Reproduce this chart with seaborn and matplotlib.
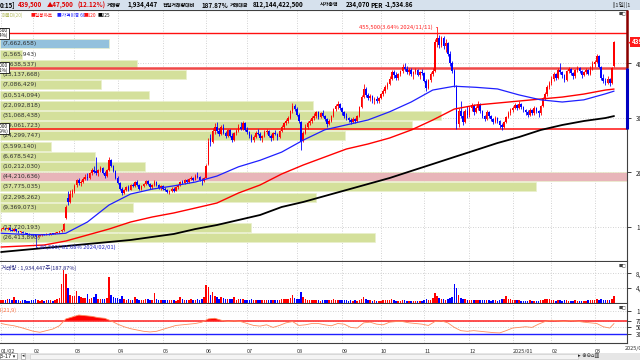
import numpy as np
import matplotlib
matplotlib.use("Agg")
import matplotlib.pyplot as plt
import matplotlib.transforms as mtrans
from matplotlib.patches import Rectangle
import seaborn as sns

sns.set_theme(style="white")
plt.rcParams['font.family'] = ['Noto Sans CJK KR', 'DejaVu Sans']
plt.rcParams['axes.unicode_minus'] = False

# ---------------- data ----------------
MONTH_LABELS = ["01/02", "02", "03", "04", "05", "06", "07", "08", "09", "10", "11", "12", "2025/01", "02", "03"]
MONTH_BARS = [15, 19, 20, 21, 20, 19, 23, 21, 18, 20, 21, 20, 18, 20, 10]

OPENS = [95,96,97,95,98,94,93,95,92,90,91,89,88,87,86,
         85,84,82,83,84,86,85,87,86,88,87,89,90,92,94,116,152,146,160,
         165,176,185,180,183,188,192,190,198,205,202,198,204,208,198,194,205,222,212,202,
         190,180,170,162,168,172,168,176,174,182,176,170,174,178,184,178,172,176,182,176,171,
         174,170,167,164,166,170,166,172,176,182,180,186,182,188,190,186,194,192,186,184,
         190,215,262,256,276,284,276,270,284,272,266,278,266,260,272,276,284,280,290,
         278,274,266,260,264,272,270,262,266,274,276,266,262,272,270,264,276,284,290,294,300,312,322,
         316,306,292,258,272,284,290,294,300,304,310,302,308,304,298,288,294,304,316,322,326,
         318,310,304,300,296,292,298,294,304,320,338,352,342,336,340,332,334,330,
         336,344,350,356,362,372,384,378,374,380,386,394,390,384,388,380,384,388,378,384,
         382,368,354,370,380,386,440,446,434,446,432,438,418,400,386,358,288,312,304,292,312,
         306,318,324,310,318,326,312,304,298,310,304,298,292,300,294,286,284,292,302,308,
         314,318,324,318,326,320,314,310,306,314,308,318,312,308,322,336,344,356,
         364,372,380,374,388,384,378,370,386,390,382,376,388,392,386,378,384,388,380,392,
         398,402,414,394,374,368,364,372,364,395]
HIGHS = [98,99,98,100,99,96,97,96,93,92,92,90,89,88,87,
         86,85,84,85,87,87,88,88,89,89,90,91,93,95,107,140,165,168,170,
         178,188,190,186,192,196,198,200,208,212,228,206,212,210,202,206,228,224,214,205,
         194,182,172,170,174,176,178,180,184,185,178,176,180,186,186,180,178,186,184,178,176,
         176,172,170,168,172,172,174,178,184,186,188,188,190,194,192,196,200,194,190,192,
         215,262,270,282,290,292,282,286,288,276,280,280,272,274,280,288,292,294,292,
         284,276,270,268,276,280,274,268,278,280,278,270,274,278,272,278,286,292,298,304,314,327,326,
         320,308,294,276,288,294,298,304,308,312,312,310,314,306,300,298,306,318,326,330,328,
         320,312,308,302,300,302,300,306,322,342,363,356,346,344,342,338,340,338,
         346,352,360,366,376,388,388,384,382,388,398,400,396,392,392,386,392,390,386,390,
         384,372,372,384,392,445,455.5,452,450,450,444,440,422,404,390,360,318,330,312,316,322,
         322,328,326,322,330,328,314,306,314,312,306,300,304,302,296,290,294,304,312,318,
         322,328,326,330,328,322,316,314,318,316,322,320,314,324,338,348,360,368,
         376,384,382,392,400,386,380,388,394,392,384,390,396,394,388,386,392,390,396,404,
         406,418,416,396,380,374,376,374,394,441]
LOWS = [93,95,94,94,93,92,92,91,89,89,88,87,86,85,84,
        83,80.5,81,82,83,84,84,85,85,86,86,88,89,90,93,115,140,144,155,
        162,172,176,175,180,185,186,188,195,198,195,194,200,196,190,192,203,210,200,188,
        178,168,158,160,165,166,167,172,172,174,168,168,172,176,176,170,170,174,174,169,168,
        168,165,162,160,164,164,165,170,175,178,179,180,181,185,184,185,190,184,176,182,
        189,214,248,254,270,272,266,268,270,262,264,264,256,258,268,274,278,278,276,
        270,262,256,255,262,268,260,256,264,270,264,258,260,268,260,262,274,280,286,290,298,308,312,
        304,290,241,256,270,280,286,290,296,300,298,300,302,294,284,286,292,302,312,316,314,
        306,300,296,292,288,290,290,292,302,318,336,338,332,330,328,326,328,328,
        334,340,346,352,360,370,374,370,370,376,382,386,380,378,376,372,380,376,372,378,
        366,350,352,366,376,384,430,428,430,426,420,414,396,382,356,280,284,300,286,290,300,
        302,312,306,308,314,308,300,294,296,300,294,288,290,290,282,278,282,290,300,306,
        310,316,314,316,316,310,306,302,304,306,306,308,302,306,320,332,340,352,
        360,368,370,372,380,374,366,368,382,378,372,374,384,382,374,376,380,378,378,388,
        394,400,392,370,364,360,362,358,362,394]
CLOSES = [96,97,95,98,94,93,95,92,90,91,89,88,87,86,85,
          84,82,83,84,86,85,87,86,88,87,89,90,92,94,105,137,145,160,165,
          175,185,180,183,188,192,190,198,205,200,198,204,208,198,194,204,222,212,202,190,
          180,170,162,168,172,168,176,174,182,176,170,174,178,184,178,172,176,182,176,171,174,
          170,167,164,166,170,166,172,176,182,180,186,182,188,190,186,194,192,186,184,190,
          212,255,256,276,284,276,270,284,272,266,278,266,260,272,276,284,280,290,278,
          274,266,260,264,272,270,262,266,274,276,266,262,272,270,264,276,284,290,294,300,312,322,316,
          306,294,256,272,284,290,294,300,304,310,302,308,304,298,288,294,304,316,322,326,318,
          310,304,300,296,292,298,294,304,320,338,352,342,336,340,332,334,330,336,
          344,350,356,362,372,384,378,374,380,386,394,390,384,388,380,384,388,378,384,382,
          368,354,370,380,386,440,446,434,446,432,438,418,400,386,360,288,312,304,292,312,306,
          318,324,310,318,326,312,304,298,310,304,298,292,300,294,286,284,292,302,308,314,
          318,324,318,326,320,314,310,306,314,308,318,312,308,322,336,344,356,364,
          372,380,374,388,384,378,370,386,390,382,376,388,392,386,378,384,388,380,392,398,
          402,414,394,374,368,364,372,364,392,439.5]
PRICE_UNIT = 1000  # prices above are in thousand won

VOLUMES_K = [900,700,800,1100,1000,700,1600,900,800,600,700,900,600,500,700,
             800,1200,700,600,900,600,800,700,900,600,800,1100,1400,5200,8800,7700,3900,2200,2000,
             1800,3300,1900,1500,1400,1300,2500,1200,1400,1600,2300,1100,1200,1000,1100,1300,6900,2200,1500,1300,
             1400,1200,2000,1000,900,1100,800,900,1700,1000,900,800,900,1200,1000,800,900,2800,1100,900,800,
             800,700,900,800,700,800,600,900,1700,1000,900,700,800,1100,900,800,1000,900,1200,1500,
             4900,4400,2200,3000,2000,1600,1200,1500,1300,1100,1200,1000,1100,1500,900,1000,1100,1000,900,
             800,900,1000,800,900,700,800,900,800,700,900,800,700,800,700,900,1000,1100,1000,1200,1400,2200,1300,
             1100,1200,3000,1500,1100,900,800,700,800,900,700,600,700,800,900,700,800,1000,900,800,700,
             700,800,700,600,700,600,700,600,900,1200,1500,1100,900,700,600,700,600,500,
             600,700,800,700,900,1000,700,600,500,600,800,700,600,500,600,500,600,500,500,600,
             700,1000,900,700,1300,2800,2000,1300,1100,1000,900,1100,1300,1600,5000,3900,2200,1400,1200,1000,900,
             900,800,700,800,900,700,800,700,900,700,600,700,800,600,900,1100,1000,2000,1200,1000,
             900,800,700,800,600,500,600,500,700,600,500,600,500,700,900,1000,1200,1000,
             800,700,600,900,800,600,700,800,600,500,600,700,600,500,600,500,600,700,800,900,
             800,1000,900,1000,800,700,800,700,1030,1934.447]

# moving averages read every 10 bars (thousand won)
MA_IDX = [0,10,20,30,40,50,60,70,80,90,100,110,120,130,140,150,160,170,180,190,200,210,220,230,240,250,260,270,280,284]
MA60 = [88,86,85,88,108.6,139.8,160,169,175,182,193,210,222,237,259,278,287,296,311,329,351,358,356,353,342,333,329,333,344,349]
MA120 = [62.7,64.5,66.4,73.7,84.7,95.7,108.6,117.8,125.2,134.3,143.5,161.9,176.6,196.8,213.3,228,242.7,251.9,262.9,277.6,295.9,316.1,323.4,327.1,330.8,334.5,338.1,343.6,351,352.8]
MA225 = [53.5,57.2,60.9,64.5,68.2,71.9,75.6,81.1,86.6,95.7,103.1,112.3,121.5,136.2,145.4,156.4,167.4,178.4,189.4,202.3,215.1,228,240.8,253.7,264.7,277.6,286.8,294.1,299.6,303.2]

# oscillator read every 3 bars
RSI_STEP = 3
RSI = [62,58,55,50,44,38,35,40,45,55,76,82,88,86,84,80,78,70,60,52,
       46,42,38,36,38,44,50,56,58,60,62,66,76,78,72,68,70,68,62,56,
       54,58,50,56,64,68,56,58,62,62,58,55,62,60,50,48,64,66,60,58,
       66,68,68,64,62,60,56,68,70,64,50,40,38,40,38,36,34,33,40,48,
       50,52,50,60,68,72,70,68,71,69,66,64,62,52,48,62]
RSI_UPPER, RSI_LOWER = 70, 30

# volume profile (20 price bins, top to bottom)
PROFILE_HIGH = 445000
PROFILE_LOW = 70000
PROFILE_VOLUMES = [7662658, 1565943, 9638537, 13137668, 7086429, 10514094, 22092818, 31068438,
                   29061723, 24299747, 3599140, 6678542, 10212030, 44210636, 37775035, 22298262,
                   9369073, 0, 17720193, 26413898]

HLINE_PRICES = [455500, 392000, 280000]
HLINE_TAGS = ["455,500\n(3.64%)", "392,000\n(-10.81%)", "280,000\n(-36.29%)"]
PEAK_DATE = "2024/11/11"
LOW_DATE = "2024/02/01"

HEADER_TEXTS = ["0:15]", "439,500", "▲47,500", "(12.12%)", "거래량", "1,934,447", "전일거래량대비",
                "187.87%", "거래대금", "812,144,422,500", "시가총액", "234,070", "PER", "-1,534.86"]
LEGEND_TEXTS = ["매물대(20)", "■일봉차트", "■가격이동 60", "■120", "■225"]
VOLUME_LABEL = "거래량 : 1,934,447주(187.87%)"
OSC_LABEL = "RSI(21,9)"

# ---------------- arrays ----------------
n = min(len(OPENS), len(HIGHS), len(LOWS), len(CLOSES), len(VOLUMES_K))
O = np.array(OPENS[:n], float) * PRICE_UNIT
H = np.array(HIGHS[:n], float) * PRICE_UNIT
L = np.array(LOWS[:n], float) * PRICE_UNIT
C = np.array(CLOSES[:n], float) * PRICE_UNIT
V = np.array(VOLUMES_K[:n], float) * 1000
idx = np.arange(n)
up = C >= O
ccol = np.where(up, '#ff0000', '#0000ff')

W, Hh = 640, 360
def fx(p): return p / W
def fy(p): return 1 - p / Hh
def rect(x0, y0, x1, y1): return [fx(x0), fy(y1), (x1 - x0) / W, (y1 - y0) / Hh]

fig = plt.figure(figsize=(6.4, 3.6), dpi=100)
fig.patch.set_facecolor('white')

XL = (-0.5, 290.0)
ax = fig.add_axes(rect(0, 10, 627, 261))
axv = fig.add_axes(rect(0, 262, 627, 303))
axo = fig.add_axes(rect(0, 304, 627, 343))

month_pos = np.cumsum([0] + MONTH_BARS[:-1]).astype(float)

for a in (ax, axv, axo):
    a.set_xlim(*XL)
    a.set_facecolor('white')
    a.set_xticks(month_pos)
    a.grid(axis='x', ls=(0, (1, 2)), color='#c4c4c4', lw=0.6)
    a.grid(axis='y', ls=(0, (1, 2)), color='#c4c4c4', lw=0.6)
    a.set_axisbelow(True)
    a.yaxis.tick_right()
    a.tick_params(axis='y', direction='out', length=3, width=0.6, labelsize=4.5,
                  pad=3.5, colors='#202020')
    a.tick_params(axis='x', length=0, labelbottom=False)
    a.spines['left'].set_visible(False)
    for s in ('right', 'top', 'bottom'):
        a.spines[s].set_color('#404040')
        a.spines[s].set_linewidth(0.8)
axv.spines['top'].set_visible(False)
axo.spines['top'].set_visible(False)

# ---------------- main price panel ----------------
ax.set_ylim(37000, 498000)
yt = [100000, 200000, 300000, 400000]
ax.set_yticks(yt)
ax.set_yticklabels([f"{v:,}" for v in yt])

# volume profile
nb = len(PROFILE_VOLUMES)
step = (PROFILE_HIGH - PROFILE_LOW) / nb
centers = PROFILE_HIGH - step * (np.arange(nb) + 0.5)
pv = np.array(PROFILE_VOLUMES, float)
span = XL[1] - XL[0]
cur_bin = int((PROFILE_HIGH - C[-1]) // step)
pcols = ['#d4e09b'] * nb
pcols[int(np.argmax(pv))] = '#e8b5b9'
pcols[cur_bin] = '#93c1dd'
ax.barh(centers, pv / pv.max() * span, left=XL[0], height=step * 0.88,
        color=pcols, edgecolor='#e9f0cc', linewidth=0.5, zorder=1)
for cy, v in zip(centers, pv):
    if v > 0:
        ax.text(0.6, cy, f"({int(v):,})", fontsize=4.2, color='#303030',
                va='center', ha='left', zorder=1.5, family=['DejaVu Sans'])

# horizontal level lines
tr = mtrans.blended_transform_factory(ax.transAxes, ax.transData)
hl_style = [('#ff1010', 1.0), ('#f04848', 1.8), ('#ff1010', 1.1)]
for p, (col, lw) in zip(HLINE_PRICES, hl_style):
    ax.axhline(p, color=col, lw=lw, zorder=2)
for p, tag in zip(HLINE_PRICES, HLINE_TAGS):
    ax.text(8 / 627, p, tag, transform=tr, ha='right', va='center', fontsize=3.4,
            linespacing=0.95, color='#101010', zorder=8, clip_on=False,
            bbox=dict(boxstyle='square,pad=0.12', fc='white', ec='#101010', lw=0.6))

# candles
ax.vlines(idx, L, H, colors=ccol, lw=0.6, zorder=3)
body_lo = np.minimum(O, C)
body_h = np.maximum(np.abs(C - O), 1200)
ax.bar(idx, body_h, bottom=body_lo, width=0.72, color=ccol, lw=0, zorder=3.1)

# moving averages
ma_x = np.array(MA_IDX)
sns.lineplot(x=ma_x, y=np.array(MA225) * PRICE_UNIT, ax=ax, color='#000000', linewidth=1.3, zorder=4)
sns.lineplot(x=ma_x, y=np.array(MA120) * PRICE_UNIT, ax=ax, color='#ff0000', linewidth=1.0, zorder=4)
sns.lineplot(x=ma_x, y=np.array(MA60) * PRICE_UNIT, ax=ax, color='#1f1fff', linewidth=0.9, zorder=4)

# peak / low annotations
ipk = int(np.argmax(H)); ilo = int(np.argmin(L))
pk_pct = (H[ipk] / C[-1] - 1) * 100
lo_pct = (L[ilo] / C[-1] - 1) * 100
ax.annotate(f"{int(H[ipk]):,}({pk_pct:.2f}% {PEAK_DATE})", xy=(ipk, H[ipk]), xytext=(-3, 4.5),
            textcoords='offset points', ha='right', va='center', fontsize=4.2, color='#ff2020',
            zorder=6, arrowprops=dict(arrowstyle='-', color='#ff2020', lw=0.6, shrinkA=0, shrinkB=0,
                                      relpos=(1, 0.5), connectionstyle='angle,angleA=0,angleB=90,rad=0'))
ax.annotate(f"{int(L[ilo]):,}({lo_pct:.2f}% {LOW_DATE})", xy=(ilo, L[ilo]), xytext=(3, -7),
            textcoords='offset points', ha='left', va='center', fontsize=4.2, color='#2828c8',
            zorder=6, arrowprops=dict(arrowstyle='-', color='#2828c8', lw=0.6, shrinkA=0, shrinkB=0,
                                      relpos=(0, 0.5), connectionstyle='angle,angleA=0,angleB=90,rad=0'))

# right axis colour segments and price tag
ylim_top = ax.get_ylim()[1]
ax.plot([1, 1], [HLINE_PRICES[1], ylim_top], transform=tr, color='#8b0000', lw=1.8,
        clip_on=False, zorder=7, solid_capstyle='butt')
ax.plot([1, 1], [HLINE_PRICES[2], HLINE_PRICES[1]], transform=tr, color='#0000c0', lw=2.2,
        clip_on=False, zorder=7, solid_capstyle='butt')
ax.text(1.0 + 5 / 627, C[-1], f"{int(C[-1]):,}", transform=tr, ha='left', va='center',
        fontsize=4.6, color='white', fontweight='bold', clip_on=False, zorder=9,
        bbox=dict(boxstyle='square,pad=0.25', fc='#ff1a1a', ec='#ff1a1a', lw=0))
ax.text(1.0 + 0.5 / 627, C[-1], "◀", transform=tr, ha='left', va='center', fontsize=3.5,
        color='#ff1a1a', clip_on=False, zorder=9, family=['DejaVu Sans'])

# ---------------- volume panel ----------------
axv.set_ylim(0, 11000000)
axv.set_yticks([4000000, 8000000])
axv.set_yticklabels(["4,000,000", "8,000,000"])
axv.bar(idx, V, width=0.7, color=ccol, lw=0, zorder=3)

# ---------------- oscillator panel ----------------
axo.set_ylim(2, 122)
axo.set_yticks([30, 50, 70, 100])
axo.set_yticklabels(["30", "50", "70", "100"])
rsi = np.array(RSI, float)
rsi_x = np.minimum(np.arange(len(rsi)) * RSI_STEP, n - 1)
axo.fill_between(rsi_x, RSI_UPPER, rsi, where=rsi > RSI_UPPER, interpolate=True,
                 color='#ff0000', lw=0, zorder=2)
axo.axhline(RSI_UPPER, color='#ff2020', lw=1.1, zorder=3)
axo.axhline(RSI_LOWER, color='#2020ff', lw=1.0, zorder=3)
sns.lineplot(x=rsi_x, y=rsi, ax=axo, color='#ff8a5c', linewidth=0.6, zorder=4)
axo.tick_params(axis='x', length=4, width=0.6, colors='#303030', labelbottom=True,
                labelsize=4.0, pad=0.5, direction='out')
axo.set_xticklabels(MONTH_LABELS, ha='left')
for a in (ax, axv, axo):
    a.set_xlabel(''); a.set_ylabel('')

# ---------------- header / legends ----------------
fig.patches.append(Rectangle((0, fy(9.5)), 1, 9.5 / Hh, transform=fig.transFigure,
                             facecolor='#d6e1ed', edgecolor='none', zorder=0))
hx = [0, 18, 47, 77, 107, 127, 163, 202, 230, 253, 320, 346, 370, 385]
hcol = ['#000000', '#e00000', '#e00000', '#e00000'] + ['#000000'] * 10
for x, t, c in zip(hx, HEADER_TEXTS, hcol):
    korean = any('\uac00' <= ch <= '\ud7a3' for ch in t)
    fig.text(fx(x), fy(5), t, color=c, fontsize=3.6 if korean else 4.5, fontweight='bold',
             va='center', ha='left')
fig.text(fx(612), fy(5), "||1일||1", fontsize=4.2, color='#202020', va='center', ha='left')

lx = [2, 31, 57, 84, 98]
lcol = ['#b9c06a', '#ff1010', '#2020ff', '#ff1010', '#000000']
for x, t, c in zip(lx, LEGEND_TEXTS, lcol):
    fig.text(fx(x), fy(15.5), t, color=c, fontsize=3.4, va='center', ha='left')

fig.text(fx(1), fy(268), VOLUME_LABEL, color='#202080', fontsize=4.0, va='center', ha='left')
fig.text(fx(-7), fy(310), OSC_LABEL, color='#ff7040', fontsize=4.0, va='center', ha='left')
for yy in (13, 265, 307):
    fig.text(fx(618.5), fy(yy), "■□", fontsize=3.0, color='#404040', va='center', ha='left',
             family=['DejaVu Sans'])
fig.text(fx(625), fy(348.5), "2025/03", fontsize=4.0, color='#303030', va='center', ha='left')

# bottom scroll bar
fig.patches.append(Rectangle((0, 0), 1, 7.5 / Hh, transform=fig.transFigure,
                             facecolor='#e6e6e6', edgecolor='none', zorder=0))
fig.patches.append(Rectangle((fx(30), fy(359)), fx(548), 5 / Hh, transform=fig.transFigure,
                             facecolor='#f4f4f4', edgecolor='#c8c8c8', lw=0.4, zorder=1))
fig.text(fx(0.5), fy(356), "3-17 ▾", fontsize=3.6, color='#101010', va='center', ha='left',
         family=['DejaVu Sans'],
         bbox=dict(boxstyle='square,pad=0.15', fc='white', ec='#808080', lw=0.4))
fig.text(fx(22), fy(356), "◂", fontsize=3.6, color='#202020', va='center', ha='left',
         family=['DejaVu Sans'],
         bbox=dict(boxstyle='square,pad=0.15', fc='white', ec='#909090', lw=0.4))
fig.text(fx(578), fy(356), "▸ ⊕⊖⌂▥", fontsize=3.8, color='#202020', va='center', ha='left',
         family=['DejaVu Sans'])

fig.savefig("out.png", dpi=100)
